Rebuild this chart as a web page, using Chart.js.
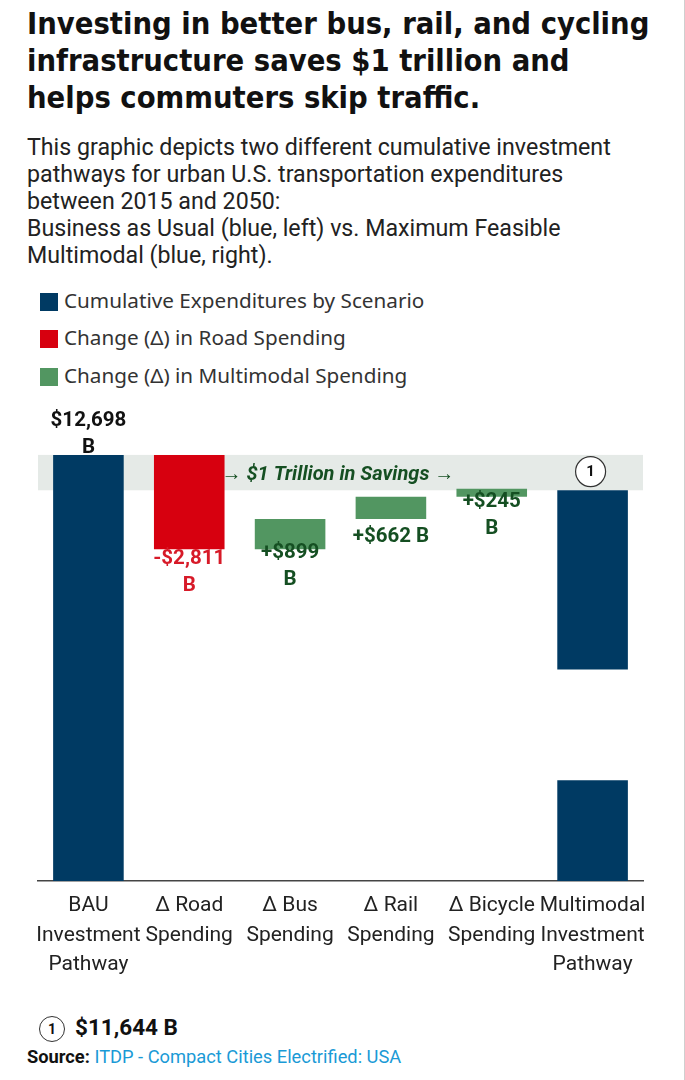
<!DOCTYPE html>
<html>
<head>
<meta charset="utf-8">
<script src="https://cdn.jsdelivr.net/npm/chart.js@4"></script>
<style>
  body { margin: 0; background: #fff; }
  #page { position: relative; width: 684px; height: 1080px; border-right: 1px solid #cfcfcf; overflow: hidden; }
  #title { position: absolute; left: 27px; top: 5px; font-family: "DejaVu Sans Condensed", "DejaVu Sans"; font-weight: bold; font-size: 30.6px; line-height: 37px; color: #111; }
  #subtitle { position: absolute; left: 27px; top: 134px; font-family: Roboto; font-size: 23.2px; line-height: 27px; color: #222; }
  .legend { position: absolute; left: 40px; font-family: "Noto Sans"; font-size: 20.7px; color: #333; height: 20px; line-height: 20px; }
  .legend span { display: inline-block; width: 18px; height: 18px; vertical-align: -3px; margin-right: 6px; }
  #chartBox { position: absolute; left: 0; top: 395px; width: 685px; height: 600px; }
  #note { position: absolute; left: 39px; top: 1013px; font-family: Roboto; font-weight: bold; font-size: 22.5px; color: #111; line-height: 28px; }
  #note .circ { display: inline-block; width: 24px; height: 24px; border: 1.2px solid #333; border-radius: 50%; text-align: center; line-height: 24px; font-size: 14px; margin-right: 10px; vertical-align: 1px; }
  #source { position: absolute; left: 27px; top: 1046px; font-family: Roboto; font-size: 18.3px; color: #1a9ad6; }
  #source b { color: #111; }
</style>
</head>
<body>
<div id="page">
  <div id="title">Investing in better bus, rail, and cycling<br>infrastructure saves $1 trillion and<br>helps commuters skip traffic.</div>
  <div id="subtitle">This graphic depicts two different cumulative investment<br>pathways for urban U.S. transportation expenditures<br>between 2015 and 2050:<br>Business as Usual (blue, left) vs. Maximum Feasible<br>Multimodal (blue, right).</div>
  <div class="legend" style="top:290px"><span style="background:#003a63"></span>Cumulative Expenditures by Scenario</div>
  <div class="legend" style="top:327px"><span style="background:#d7000f"></span>Change (Δ) in Road Spending</div>
  <div class="legend" style="top:365px"><span style="background:#529661"></span>Change (Δ) in Multimodal Spending</div>
  <div id="chartBox"><canvas id="chart"></canvas></div>
  <div id="note"><span class="circ">1</span>$11,644 B</div>
  <div id="source"><b>Source:</b> ITDP - Compact Cities Electrified: USA</div>
</div>
<script>
// 数据 (billion USD)
const categories = [
  ['BAU', 'Investment', 'Pathway'],
  ['Δ Road', 'Spending'],
  ['Δ Bus', 'Spending'],
  ['Δ Rail', 'Spending'],
  ['Δ Bicycle', 'Spending'],
  ['Multimodal', 'Investment', 'Pathway']
];
const bauTotal = 12698;
const deltaValues = [-2811, 899, 662, 245];
const multimodalTotal = 11644;
const axisBreak = [3000, 6300]; // 最后一根柱子中间的断开区间
const valueLabels = [['$12,698', 'B'], ['-$2,811', 'B'], ['+$899', 'B'], ['+$662 B'], ['+$245', 'B'], null];

// 颜色
const NAVY = '#003a63';
const RED = '#d7000f';
const GREEN = '#529661';
const barColors = [NAVY, RED, GREEN, GREEN, GREEN, NAVY];
const labelColors = ['#111', '#d71a28', '#154f22', '#154f22', '#154f22', '#111'];
// 标签第一行相对柱子的偏移 (px)
const labelOffsets = [-34, 10, 4, 18, 5, 0];

// 瀑布图的浮动区间
let running = bauTotal;
const mainData = [[0, bauTotal]];
deltaValues.forEach(d => {
  const next = running + d;
  mainData.push([Math.min(running, next), Math.max(running, next)]);
  running = next;
});
mainData.push([axisBreak[1], multimodalTotal]);
const lowerData = categories.map((c, i) => i === categories.length - 1 ? [0, axisBreak[0]] : null);

const annotations = {
  id: 'annotations',
  beforeDatasetsDraw(chart) {
    const { ctx, chartArea, scales: { y } } = chart;
    const top = y.getPixelForValue(bauTotal);
    const bottom = y.getPixelForValue(multimodalTotal);
    ctx.save();
    ctx.fillStyle = '#e5eae7';
    ctx.fillRect(chartArea.left, top, chartArea.right - chartArea.left, bottom - top);
    ctx.restore();
  },
  afterDatasetsDraw(chart) {
    const { ctx, scales: { y } } = chart;
    const bars = chart.getDatasetMeta(0).data;
    const bandMid = (y.getPixelForValue(bauTotal) + y.getPixelForValue(multimodalTotal)) / 2;
    ctx.save();
    ctx.textAlign = 'center';
    ctx.textBaseline = 'middle';
    ctx.font = 'bold 20.5px Roboto';
    valueLabels.forEach((lines, i) => {
      if (!lines) return;
      const bar = bars[i];
      const range = mainData[i];
      const anchor = i === 0 ? y.getPixelForValue(range[1]) : y.getPixelForValue(range[0]);
      ctx.fillStyle = labelColors[i];
      lines.forEach((t, k) => ctx.fillText(t, bar.x, anchor + labelOffsets[i] + k * 27));
    });

    // 节省一万亿的说明
    const road = bars[1];
    ctx.textAlign = 'left';
    ctx.font = 'italic bold 20px Roboto';
    ctx.fillStyle = '#154f22';
    ctx.fillText('→ $1 Trillion in Savings →', road.x + road.width / 2 - 3, bandMid + 2);

    // 圆圈 1
    const last = bars[bars.length - 1];
    ctx.beginPath();
    ctx.arc(last.x - 2, bandMid - 1, 15, 0, Math.PI * 2);
    ctx.fillStyle = '#fff';
    ctx.fill();
    ctx.lineWidth = 1.2;
    ctx.strokeStyle = '#333';
    ctx.stroke();
    ctx.textAlign = 'center';
    ctx.font = 'bold 15px Roboto';
    ctx.fillStyle = '#111';
    ctx.fillText('1', last.x - 2, bandMid);
    ctx.restore();
  }
};

new Chart(document.getElementById('chart'), {
  type: 'bar',
  data: {
    labels: categories,
    datasets: [
      {
        data: mainData,
        backgroundColor: barColors,
        borderWidth: 0,
        barPercentage: 0.7,
        categoryPercentage: 1,
        grouped: false
      },
      {
        data: lowerData,
        backgroundColor: NAVY,
        borderWidth: 0,
        barPercentage: 0.7,
        categoryPercentage: 1,
        grouped: false
      }
    ]
  },
  options: {
    responsive: true,
    maintainAspectRatio: false,
    animation: false,
    layout: { padding: { top: 33, left: 38, right: 42, bottom: 0 } },
    scales: {
      x: {
        grid: { display: true, drawOnChartArea: false, drawTicks: false, color: 'transparent' },
        border: { display: true, color: '#444', width: 1.5 },
        ticks: {
          autoSkip: false,
          maxRotation: 0,
          minRotation: 0,
          padding: 10,
          color: '#222',
          font: { family: 'Roboto', size: 21, lineHeight: 1.41 }
        },
        afterFit(scale) { scale.height = 114; }
      },
      y: {
        display: false,
        min: 0,
        max: 13500
      }
    },
    plugins: {
      legend: { display: false },
      tooltip: { enabled: false }
    }
  },
  plugins: [annotations]
});
</script>
</body>
</html>
